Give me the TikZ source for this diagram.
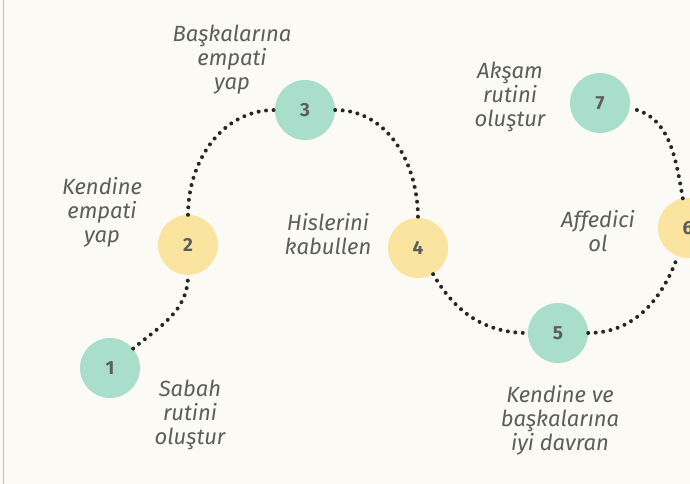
\documentclass[tikz,border=0pt]{standalone}
\usepackage{fontspec}
\setmainfont{Fira Sans}
\usepackage{xcolor}
\definecolor{BgCream}{HTML}{FCFAF5}
\definecolor{StepTeal}{HTML}{A9DECD}
\definecolor{StepYellow}{HTML}{FBE3A0}
\definecolor{InkGray}{HTML}{5A5E5C}
\tikzset{
  stepdot/.style={circle,minimum size=60pt,inner sep=0pt,font=\bfseries\fontsize{19}{19}\selectfont,text=InkGray},
  tealdot/.style={stepdot,fill=StepTeal},
  yellowdot/.style={stepdot,fill=StepYellow},
  steplabel/.style={align=center,text=InkGray,font=\itshape\fontsize{22}{24}\selectfont},
  trail/.style={black!85,line width=4pt,line cap=round,dash pattern=on 0pt off 7.5pt}
}
\begin{document}
\begin{tikzpicture}[x=1pt,y=-1pt]
  \fill[BgCream] (0,0) rectangle (690,484);
  \useasboundingbox (0,0) rectangle (690,484);
  \draw[lightgray,thin] (3,0) -- (3,484);
  % steps
  \node[tealdot] (n1) at (110,368) {1};
  \node[yellowdot] (n2) at (188,245) {2};
  \node[tealdot] (n3) at (305,110) {3};
  \node[yellowdot] (n4) at (418,248) {4};
  \node[tealdot] (n5) at (558,333) {5};
  \node[yellowdot] (n6) at (688,228) {6};
  \node[tealdot] (n7) at (600,103) {7};
  % dotted trail
  \draw[trail] (n1) to[out=40,in=-90] (n2);
  \draw[trail] (n2) to[out=90,in=180] (n3);
  \draw[trail] (n3) to[out=0,in=90] (n4);
  \draw[trail] (n4) to[out=-60,in=180] (n5);
  \draw[trail] (n5) to[out=0,in=-110] (n6);
  \draw[trail] (n6) to[out=100,in=-10] (n7);
  % labels
  \node[steplabel] (l1) at (190,415) {Sabah\\rutini\\oluştur};
  \node[steplabel] (l2) at (102,212) {Kendine\\empati\\yap};
  \node[steplabel] (l3) at (232,60) {Başkalarına\\empati\\yap};
  \node[steplabel] (l4) at (328,234) {Hislerini\\kabullen};
  \node[steplabel] (l5) at (560,420) {Kendine ve\\başkalarına\\iyi davran};
  \node[steplabel] (l6) at (598,231) {Affedici\\ol};
  \node[steplabel] (l7) at (510,97) {Akşam\\rutini\\oluştur};
\end{tikzpicture}
\end{document}
